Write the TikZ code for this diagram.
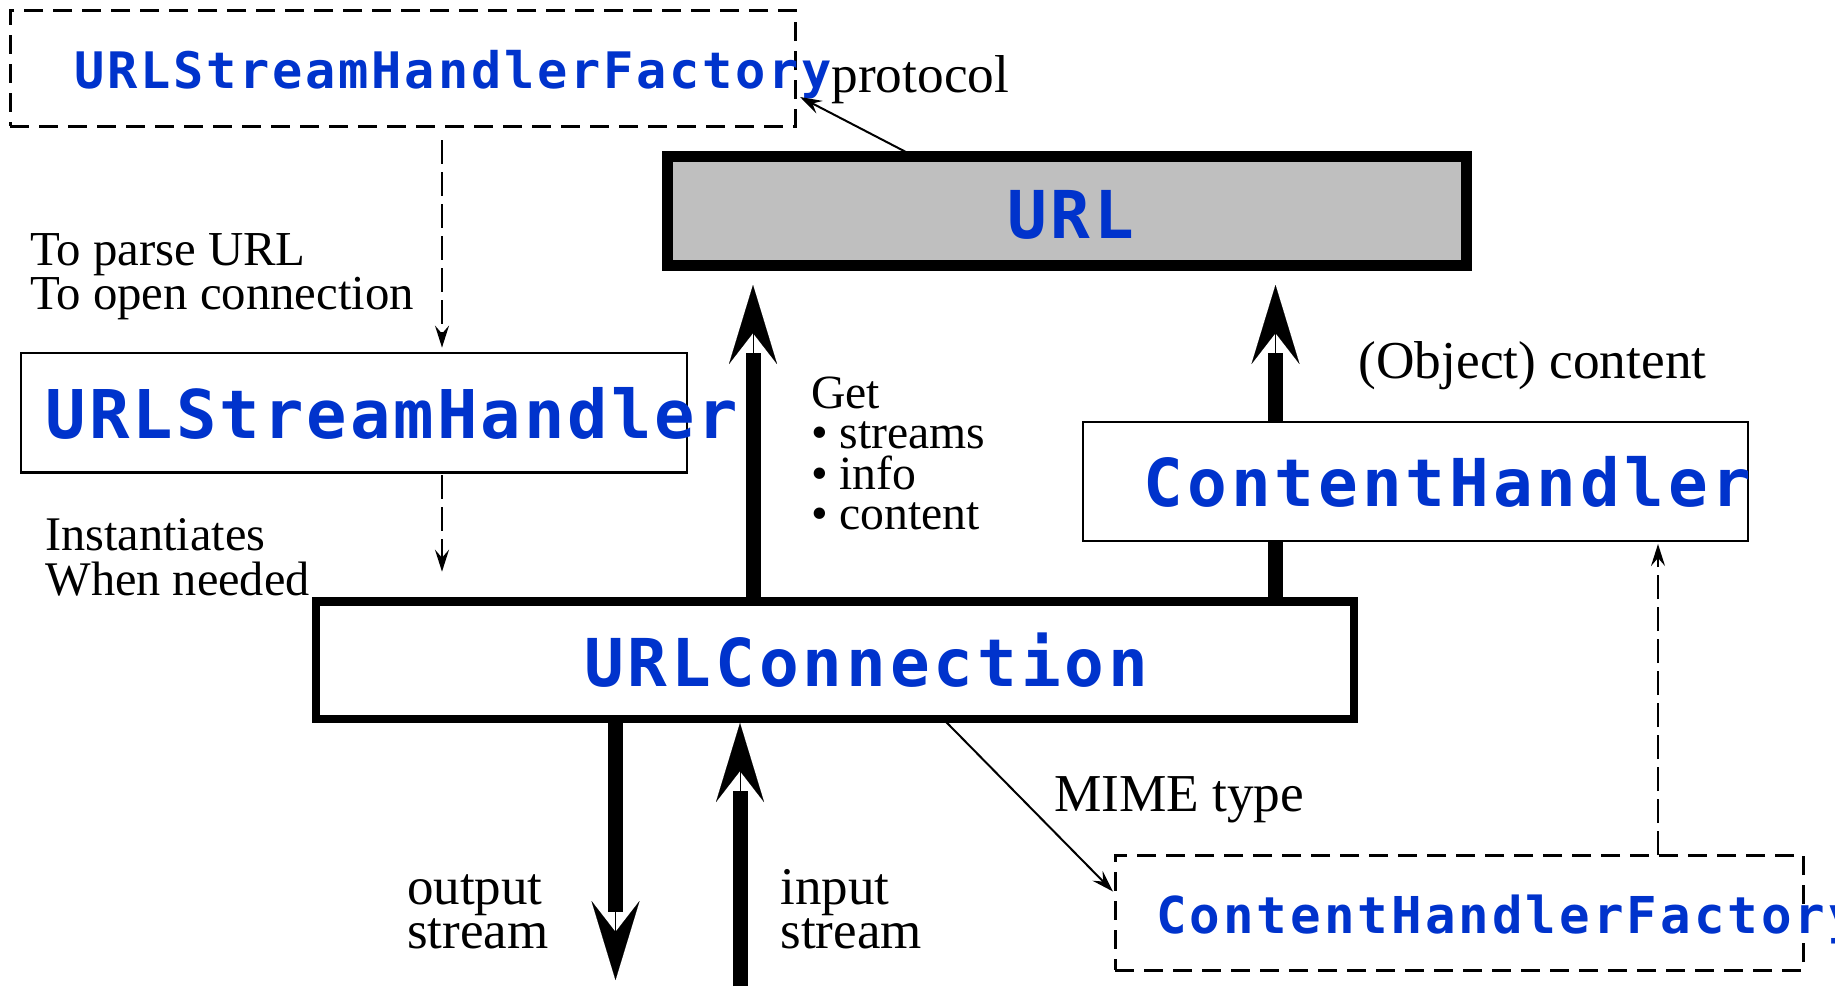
\documentclass[tikz,border=0pt]{standalone}
\usepackage{fontspec}
\setmainfont{Liberation Serif}
\newfontfamily\codefont{DejaVu Sans Mono}[LetterSpace=6.0]
\usetikzlibrary{arrows.meta}
\definecolor{codeblue}{RGB}{0,51,204}
\definecolor{urlgray}{RGB}{191,191,191}
\newcommand\codetext[3]{{\fontsize{#1}{#1}\selectfont\codefont\bfseries\addfontfeature{LetterSpace=#3}\color{codeblue}#2}}
\newcommand\serif[2]{\fontsize{#1}{#2}\selectfont}
\newcommand\stack[2]{\vtop{\baselineskip=#1\lineskiplimit=-1000pt\lineskip=0pt\halign{##\hfil\cr#2\crcr}}}
\begin{document}
\begin{tikzpicture}[x=1pt,y=-1pt,
  every node/.style={inner sep=0pt, outer sep=0pt},
  thinbox/.style={draw, line width=2.2pt, fill=white, rectangle},
  dashbox/.style={draw, line width=3pt, dash pattern=on 19pt off 10pt, rectangle},
  lbl/.style={anchor=base west},
  shaft/.style={line width=15pt},
  bighead/.style={line width=0.1pt, -{Stealth[length=79pt,width=48pt,inset=31pt]}},
  thinarrow/.style={line width=2pt, -{Stealth[length=22pt,width=14pt,inset=8pt]}},
  dasharrow/.style={thinarrow, dash pattern=on 24pt off 8pt}]
\useasboundingbox[fill=white] (0,0) rectangle (1835,986);

% boxes
\node[dashbox, text height=78.3pt, text depth=37.7pt] (fac) at (402.5,68)
  {\makebox[785pt][l]{\hspace*{64.5pt}\codetext{50.3}{URLStreamHandlerFactory}{5.5}}};
\node[draw, line width=11pt, fill=urlgray, text height=81.5pt, text depth=27.5pt] (url) at (1067,211)
  {\makebox[799pt][l]{\hspace*{339.7pt}\codetext{66}{URL}{6}}};
\node[thinbox, text height=85pt, text depth=34.5pt] (ush) at (354,412.75)
  {\makebox[666pt][l]{\hspace*{24.8pt}\codetext{67.2}{URLStreamHandler}{4.5}}};
\node[draw, line width=8.5pt, fill=white, text height=84.7pt, text depth=32.8pt] (conn) at (834.85,660.05)
  {\makebox[1037.9pt][l]{\hspace*{268.4pt}\codetext{66}{URLConnection}{6}}};
\node[thinbox, text height=84pt, text depth=35pt] (ch) at (1415.5,481.5)
  {\makebox[665pt][l]{\hspace*{60.7pt}\codetext{66}{ContentHandler}{6}}};
\node[dashbox, text height=78pt, text depth=37pt] (chf) at (1459,912.5)
  {\makebox[688pt][l]{\hspace*{41pt}\codetext{50.8}{ContentHandlerFactory}{6}}};

% thick arrows
\coordinate (aTop) at (753,353);
\draw[shaft] (conn.north -| aTop) -- (aTop);
\draw[bighead, shorten >=19.5pt] (aTop) -- (url.south -| aTop);

\coordinate (bTop) at (1275.5,353);
\draw[shaft] (conn.north -| bTop) -- (ch.south -| bTop);
\draw[shaft] (ch.north -| bTop) -- (bTop);
\draw[bighead, shorten >=19.5pt] (bTop) -- (url.south -| bTop);

\coordinate (cEnd) at (615.5,911.7);
\coordinate (cTip) at (615.5,980);
\draw[shaft] (conn.south -| cEnd) -- (cEnd);
\draw[bighead] (cEnd) -- (cTip);

\coordinate (dStart) at (740,986);
\coordinate (dTop) at (740,790.7);
\draw[shaft] (dStart) -- (dTop);
\draw[bighead, shorten >=4.2pt] (dTop) -- (conn.south -| dTop);

% thin arrows
\coordinate (pS) at (914.6,0);
\draw[thinarrow, shorten <=6.4pt] (url.north -| pS) -- ([shift={(5,29)}]fac.east);
\coordinate (mS) at (943,0);
\draw[thinarrow] (conn.south -| mS) -- ([shift={(-2,-21)}]chf.west);

% dashed arrows
\coordinate (dx) at (442,0);
\draw[dasharrow, shorten <=14pt, shorten >=5.4pt] (fac.south -| dx) -- (ush.north -| dx);
\draw[dasharrow, shorten <=2.5pt, shorten >=29.6pt] (ush.south -| dx) -- (conn.north -| dx);
\coordinate (ex) at (1658,0);
\draw[dasharrow, shorten >=3pt] (chf.north -| ex) -- (ch.south -| ex);

% labels
\node[lbl, font=\serif{53.3}{53.3}] (protocol) at (831.5,92) {protocol};
\node[lbl, font=\serif{48.8}{44.5}] (parse) at (30,265)
  {\stack{44.5pt}{To parse URL\cr To open connection}};
\node[lbl, font=\serif{48.3}{45.7}] (inst) at (45.5,550)
  {\stack{45.7pt}{Instantiates\cr When needed}};
\node[lbl, font=\serif{47.7}{40.4}] (get) at (811,408.3)
  {\stack{40.4pt}{Get\cr • streams\cr • info\cr • content}};
\node[lbl, font=\serif{53.3}{53.3}] (objc) at (1358.7,378) {(Object) content};
\node[lbl, font=\serif{53.3}{53.3}] (mime) at (1054,811.7) {MIME type};
\node[lbl, font=\serif{53}{44}] (outs) at (407,904)
  {\stack{44pt}{output\cr stream}};
\node[lbl, font=\serif{53}{44}] (ins) at (780.5,904)
  {\stack{44pt}{input\cr stream}};
\end{tikzpicture}
\end{document}
